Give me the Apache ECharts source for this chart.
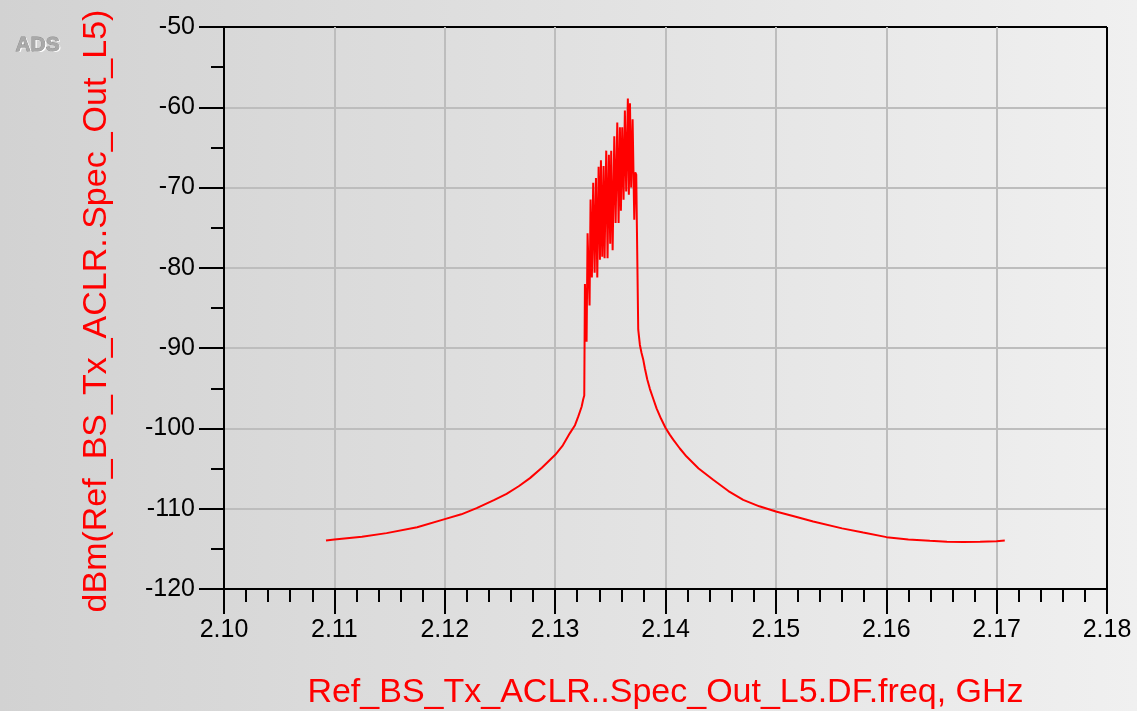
<!DOCTYPE html>
<html>
<head>
<meta charset="utf-8">
<script src="https://cdn.jsdelivr.net/npm/echarts@6/dist/echarts.min.js"></script>
<style>
html,body{margin:0;padding:0;width:1137px;height:711px;overflow:hidden;
background:linear-gradient(to right,#d2d2d2 0%,#e1e1e1 50%,#f0f0f0 100%);}
#chart{width:1137px;height:711px;}
</style>
</head>
<body>
<div id="chart"></div>
<script>
// Frequency (GHz) of each trace point
const freqGHz = [
  2.10924, 2.11000, 2.11250, 2.11473, 2.11750, 2.12000, 2.12150, 2.12289, 2.12450, 2.12560,
  2.12670, 2.12772, 2.12880, 2.13001, 2.13070, 2.13134, 2.13180, 2.13210, 2.13240, 2.13254,
  2.13264,
  2.13270, 2.13285, 2.13294, 2.13312, 2.13321, 2.13333, 2.13345, 2.13358, 2.13370, 2.13382,
  2.13394, 2.13406, 2.13415, 2.13427, 2.13439, 2.13448, 2.13463, 2.13475, 2.13487, 2.13499,
  2.13508, 2.13521, 2.13536, 2.13548, 2.13563, 2.13575, 2.13587, 2.13596, 2.13608, 2.13620,
  2.13632, 2.13644, 2.13659, 2.13668, 2.13678, 2.13689, 2.13702, 2.13717, 2.13726, 2.13735,
  2.13740, 2.13753, 2.13768, 2.13783, 2.13798, 2.13813, 2.13835, 2.13859, 2.13889, 2.13919,
  2.13960, 2.14001, 2.14040, 2.14070, 2.14130, 2.14191, 2.14300, 2.14432, 2.14570, 2.14704,
  2.14850, 2.15000, 2.15180, 2.15338, 2.15600, 2.15791, 2.16003, 2.16200, 2.16395, 2.16550,
  2.16697, 2.16850, 2.16999, 2.17074
];
// Level (dBm) of each trace point
const levelDbm = [
  -113.97, -113.84, -113.50, -113.04, -112.30, -111.30, -110.70, -109.93, -108.90, -108.14,
  -107.20, -106.19, -104.90, -103.28, -102.10, -100.58, -99.60, -98.50, -97.30, -96.40,
  -95.90,
  -82.0, -89.2, -75.7, -84.7, -71.5, -81.2, -69.4, -80.6, -68.8, -81.2,
  -67.4, -79.0, -66.6, -78.6, -67.3, -78.8, -65.4, -78.8, -65.9, -77.0,
  -65.4, -77.8, -63.6, -74.4, -61.9, -74.4, -62.5, -72.9, -62.5, -71.5,
  -60.4, -70.5, -58.9, -70.9, -59.5, -70.0, -61.5, -74.0, -68.1, -68.4,
  -74.0, -87.7, -89.6, -90.6, -91.4, -92.5, -93.9, -95.1, -96.3, -97.5,
  -98.8, -99.95, -100.8, -101.4, -102.5, -103.5, -105.0, -106.4, -107.8, -108.9,
  -109.7, -110.35, -111.0, -111.6, -112.45, -112.97, -113.54, -113.82, -114.0, -114.10,
  -114.16, -114.12, -114.04, -113.97
];
const xTickLabels = ['2.10','2.11','2.12','2.13','2.14','2.15','2.16','2.17','2.18'];
const yTickLabels = ['-120','-110','-100','-90','-80','-70','-60','-50'];
const xTitle = 'Ref_BS_Tx_ACLR..Spec_Out_L5.DF.freq, GHz';
const yTitle = 'dBm(Ref_BS_Tx_ACLR..Spec_Out_L5)';
const logoText = 'ADS';

const FONT = '"Liberation Sans", Arial, sans-serif';
const GRID_GRAY = '#bdbdbd';
const xSplitColors = xTickLabels.map((_, i) => i === xTickLabels.length - 1 ? '#000000' : GRID_GRAY);
const ySplitColors = yTickLabels.map((_, i) => i === yTickLabels.length - 1 ? '#000000' : GRID_GRAY);

const chart = echarts.init(document.getElementById('chart'), null, {renderer: 'canvas'});
chart.setOption({
  backgroundColor: 'transparent',
  animation: false,
  grid: {left: 224, right: 30, top: 27, bottom: 122, containLabel: false, outerBoundsMode: 'none'},
  xAxis: {
    type: 'value', min: 2.10, max: 2.18, interval: 0.01,
    axisLine: {show: true, onZero: false, lineStyle: {color: '#000', width: 2}},
    axisTick: {show: true, length: 25, lineStyle: {color: '#000', width: 2}},
    minorTick: {show: true, splitNumber: 5, length: 13, lineStyle: {color: '#000', width: 2}},
    splitLine: {show: true, showMinLine: true, showMaxLine: true, lineStyle: {color: xSplitColors, width: 2}},
    axisLabel: {
      margin: 29, color: '#000', fontSize: 25, fontFamily: FONT,
      formatter: v => xTickLabels[Math.round((v - 2.10) / 0.01)]
    },
    name: xTitle, nameLocation: 'middle', nameGap: 87,
    nameTextStyle: {color: '#ff0000', fontSize: 34, fontFamily: FONT}
  },
  yAxis: {
    type: 'value', min: -120, max: -50, interval: 10,
    axisLine: {show: true, onZero: false, lineStyle: {color: '#000', width: 2}},
    axisTick: {show: true, length: 25, lineStyle: {color: '#000', width: 2}},
    minorTick: {show: true, splitNumber: 2, length: 13, lineStyle: {color: '#000', width: 2}},
    splitLine: {show: true, showMinLine: true, showMaxLine: true, lineStyle: {color: ySplitColors, width: 2}},
    axisLabel: {
      margin: 29, color: '#000', fontSize: 25, fontFamily: FONT,
      formatter: v => yTickLabels[Math.round((v + 120) / 10)]
    }
  },
  graphic: [
    {type: 'text', left: 17, top: 36, z: 10,
     style: {text: logoText, fill: '#ffffff', font: 'bold 21px ' + FONT}},
    {type: 'text', left: 15, top: 34, z: 11,
     style: {text: logoText, fill: '#a9a9a9', stroke: '#8c8c8c', lineWidth: 0.8, font: 'bold 21px ' + FONT}},
    {type: 'text', x: 97, y: 311, rotation: Math.PI / 2, z: 10,
     style: {text: yTitle, fill: '#ff0000', font: '34px ' + FONT, textAlign: 'center', textVerticalAlign: 'middle'}}
  ],
  series: [{
    type: 'line',
    data: freqGHz.map((f, i) => [f, levelDbm[i]]),
    showSymbol: false,
    smooth: false,
    lineStyle: {color: '#ff0000', width: 2},
    z: 5
  }]
});
</script>
</body>
</html>
